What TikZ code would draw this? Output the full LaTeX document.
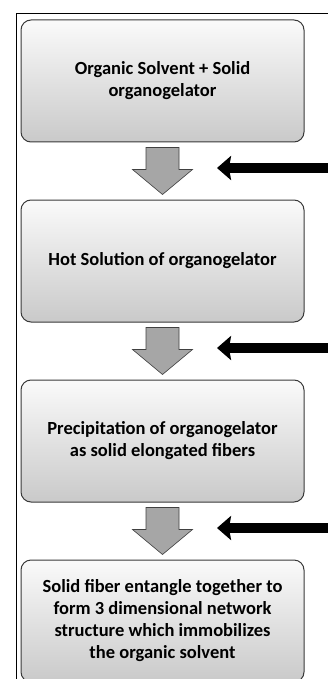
\documentclass[tikz,border=0pt]{standalone}
\usepackage{fontspec}
\setmainfont{Carlito}
\usetikzlibrary{arrows.meta,calc}

\tikzset{
  stepbox/.style={draw=gray!45!black, line width=1pt, rounded corners=10pt,
    top color=gray!4, bottom color=gray!42,
    minimum width=283pt, minimum height=122pt,
    align=center, font=\fontsize{18.5}{22}\selectfont\bfseries},
  downarrow/.style={fill=gray!70, draw=gray!50!black, line width=0.6pt},
  addarrow/.style={line width=10pt, -{Stealth[length=14pt,width=24pt,inset=2pt]}}
}

\begin{document}
\begin{tikzpicture}[x=1pt,y=-1pt]
        \useasboundingbox (0,0) rectangle (328,679);
        \clip (0,0) rectangle (328,679);
        % Draw frame
        \draw[line width=0.8pt] (16,679) -- (16,13) -- (328,13);
        % Draw steps
        \node[stepbox] (s1) at (162.5,81) {Organic Solvent + Solid\\organogelator};
        \node[stepbox] (s2) at (162.5,261) {Hot Solution of organogelator};
        \node[stepbox] (s3) at (162.5,441) {Precipitation of organogelator\\as solid elongated fibers};
        \node[stepbox] (s4) at (162.5,621) {Solid fiber entangle together to\\form 3 dimensional network\\structure which immobilizes\\the organic solvent};
        % Draw gray arrows and black side arrows
        \foreach \a/\b [count=\i] in {s1/s2,s2/s3,s3/s4}{
          \path ($(\a.south)+(0,5)$) coordinate (t\i) ($(\b.north)+(0,-5)$) coordinate (h\i);
          \draw[downarrow] ($(t\i)+(-16.5,0)$) -- ($(t\i)+(16.5,0)$) -- ($(h\i)+(16.5,-25)$)
            -- ($(h\i)+(30,-25)$) -- (h\i) -- ($(h\i)+(-30,-25)$) -- ($(h\i)+(-16.5,-25)$) -- cycle;
          \coordinate (in\i) at ($(\a.south)!0.5!(\b.north)+(177,-3)$);
          \coordinate (tip\i) at ($(\a.south)!0.5!(\b.north)+(54.5,-3)$);
          \draw[addarrow] (in\i) -- (tip\i);
        }
    \end{tikzpicture}
\end{document}
